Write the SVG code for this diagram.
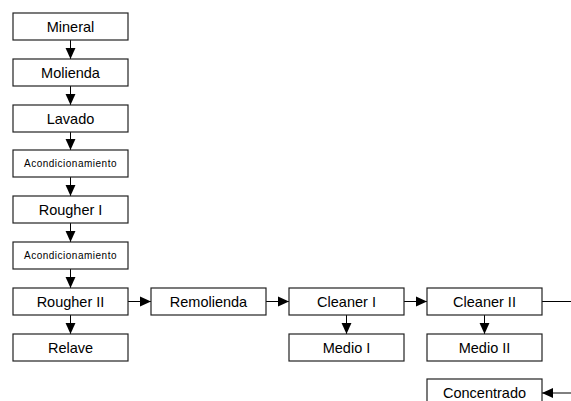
<svg xmlns="http://www.w3.org/2000/svg" width="571" height="401" viewBox="0 0 571 401">
<style>
.b{fill:#fff;stroke:#222;stroke-width:1.2}
.t{font-family:"Liberation Sans",Arial,sans-serif;font-size:14.5px;fill:#000;text-anchor:middle}
.s{font-size:10px;letter-spacing:0.5px}
.c{stroke:#000;stroke-width:1;fill:none}
</style>
<defs>
<marker id="a" viewBox="0 0 10 10" refX="10" refY="5" markerWidth="11" markerHeight="11" markerUnits="userSpaceOnUse" orient="auto">
<path d="M0,0.5 L10,5 L0,9.5 Z" fill="#000"/>
</marker>
</defs>
<rect width="571" height="401" fill="#fff"/>
<g id="connectors">
<line class="c" x1="70.5" y1="40" x2="70.5" y2="59" marker-end="url(#a)"/>
<line class="c" x1="70.5" y1="86" x2="70.5" y2="105" marker-end="url(#a)"/>
<line class="c" x1="70.5" y1="132" x2="70.5" y2="150" marker-end="url(#a)"/>
<line class="c" x1="70.5" y1="177" x2="70.5" y2="196" marker-end="url(#a)"/>
<line class="c" x1="70.5" y1="223" x2="70.5" y2="242" marker-end="url(#a)"/>
<line class="c" x1="70.5" y1="269" x2="70.5" y2="288" marker-end="url(#a)"/>
<line class="c" x1="70.5" y1="315" x2="70.5" y2="334" marker-end="url(#a)"/>
<line class="c" x1="128" y1="301.5" x2="151" y2="301.5" marker-end="url(#a)"/>
<line class="c" x1="266" y1="301.5" x2="289" y2="301.5" marker-end="url(#a)"/>
<line class="c" x1="404" y1="301.5" x2="427" y2="301.5" marker-end="url(#a)"/>
<line class="c" x1="346.5" y1="315" x2="346.5" y2="334" marker-end="url(#a)"/>
<line class="c" x1="484.5" y1="315" x2="484.5" y2="334" marker-end="url(#a)"/>
<line class="c" x1="542" y1="301.5" x2="571" y2="301.5"/>
<line class="c" x1="571" y1="393" x2="542" y2="393" marker-end="url(#a)"/>
</g>
<g id="mineral"><rect class="b" x="13" y="13" width="115" height="27"/><text class="t" x="70.5" y="32">Mineral</text></g>
<g id="molienda"><rect class="b" x="13" y="59" width="115" height="27"/><text class="t" x="70.5" y="78">Molienda</text></g>
<g id="lavado"><rect class="b" x="13" y="105" width="115" height="27"/><text class="t" x="70.5" y="124">Lavado</text></g>
<g id="acond1"><rect class="b" x="13" y="150" width="115" height="27"/><text class="t s" x="70.5" y="167">Acondicionamiento</text></g>
<g id="rougher1"><rect class="b" x="13" y="196" width="115" height="27"/><text class="t" x="70.5" y="215">Rougher I</text></g>
<g id="acond2"><rect class="b" x="13" y="242" width="115" height="27"/><text class="t s" x="70.5" y="259">Acondicionamiento</text></g>
<g id="rougher2"><rect class="b" x="13" y="288" width="115" height="27"/><text class="t" x="70.5" y="307">Rougher II</text></g>
<g id="relave"><rect class="b" x="13" y="334" width="115" height="27"/><text class="t" x="70.5" y="353">Relave</text></g>
<g id="remolienda"><rect class="b" x="151" y="288" width="115" height="27"/><text class="t" x="208.5" y="307">Remolienda</text></g>
<g id="cleaner1"><rect class="b" x="289" y="288" width="115" height="27"/><text class="t" x="346.5" y="307">Cleaner I</text></g>
<g id="cleaner2"><rect class="b" x="427" y="288" width="115" height="27"/><text class="t" x="484.5" y="307">Cleaner II</text></g>
<g id="medio1"><rect class="b" x="289" y="334" width="115" height="27"/><text class="t" x="346.5" y="353">Medio I</text></g>
<g id="medio2"><rect class="b" x="427" y="334" width="115" height="27"/><text class="t" x="484.5" y="353">Medio II</text></g>
<g id="concentrado"><rect class="b" x="427" y="379" width="115" height="27"/><text class="t" x="484.5" y="398">Concentrado</text></g>
</svg>
